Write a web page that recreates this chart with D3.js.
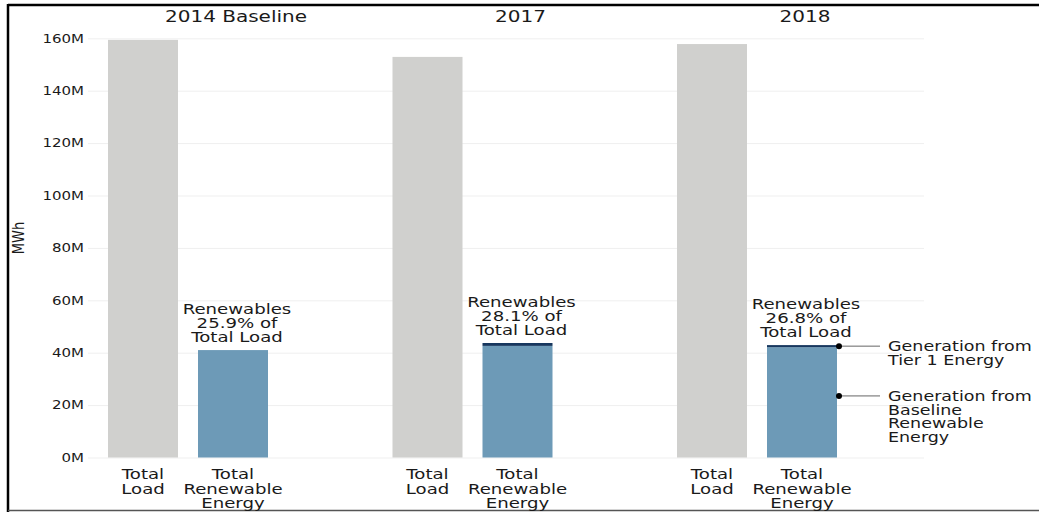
<!DOCTYPE html>
<html>
<head>
<meta charset="utf-8">
<script src="https://cdn.jsdelivr.net/npm/d3@7"></script>
<style>
  body { margin: 0; background: #fff; }
  svg { display: block; }
  text { font-family: "DejaVu Sans", sans-serif; fill: #1a1a1a; }
</style>
</head>
<body>
<svg id="chart" width="1039" height="512"></svg>
<script>
"use strict";

//
// Data
//

var years = ["2014 Baseline", "2017", "2018"];
var categories = ["Total Load", "Total Renewable Energy"];
var categoryLines = [["Total", "Load"], ["Total", "Renewable", "Energy"]];

var totalLoad = [159.4e6, 152.9e6, 157.8e6];
var baselineRenewable = [41.0e6, 42.6e6, 42.1e6];
var tier1Renewable = [0, 1.1e6, 0.8e6];
var shareLabels = ["25.9%", "28.1%", "26.8%"];

var yTicks = [0, 20e6, 40e6, 60e6, 80e6, 100e6, 120e6, 140e6, 160e6];

var notes = [
    { key: "tier1", lines: ["Generation from", "Tier 1 Energy"] },
    { key: "baseline", lines: ["Generation from", "Baseline", "Renewable", "Energy"] }
];


//
// Setup
//

var SX = 1.25;   // the reference type is set wide, so stretch it horizontally
var svg = d3.select("#chart");

var plotLeft = 88, plotRight = 924, plotTop = 38.3, plotBottom = 457.5;

var outer = d3.scaleBand().domain(years).range([plotLeft, plotLeft + 3 * 284.5]);
var inner = d3.scaleBand().domain(categories).range([20, 180]).paddingInner(20 / 90);
var y = d3.scaleLinear().domain([0, 160e6]).range([plotBottom, plotTop]);

var rows = years.map(function (yr, i) {
    return { year: yr, total: totalLoad[i], baseline: baselineRenewable[i], tier1: tier1Renewable[i], share: shareLabels[i] };
});

// one text element per block, one tspan per line
function wideText (parent, lines, x, yy, size, lineHeight, anchor) {
    var t = parent.append("text")
        .attr("transform", "translate(" + x + "," + yy + ") scale(" + SX + ",1)")
        .attr("text-anchor", anchor || "middle")
        .style("font-size", size + "px");

    [].concat(lines).forEach(function (s, i) {
        t.append("tspan")
            .attr("x", 0)
            .attr("dy", i === 0 ? "0.35em" : lineHeight)
            .text(s);
    });
    return t;
}


//
// Frame
//

svg.append("line").attr("x1", 8).attr("x2", 1039).attr("y1", 5).attr("y2", 5)
    .attr("stroke", "#000").attr("stroke-width", 2.5);
svg.append("line").attr("x1", 8).attr("x2", 8).attr("y1", 4).attr("y2", 512)
    .attr("stroke", "#000").attr("stroke-width", 2.5);
svg.append("line").attr("x1", 8).attr("x2", 1039).attr("y1", 510.5).attr("y2", 510.5)
    .attr("stroke", "#555").attr("stroke-width", 1.5);


//
// Axis and gridlines
//

var yAxis = svg.append("g")
    .attr("transform", "translate(" + plotLeft + ",0)")
    .call(d3.axisLeft(y)
        .tickValues(yTicks)
        .tickSize(-(plotRight - plotLeft))
        .tickPadding(4)
        .tickFormat(function (d) { return (d / 1e6) + "M"; }));

yAxis.select(".domain").remove();
yAxis.selectAll(".tick line").attr("stroke", "#efefef");
yAxis.selectAll(".tick text")
    .attr("x", 0)
    .attr("transform", "translate(-4,0) scale(" + SX + ",1)")
    .style("font-size", "12px")
    .style("font-family", "DejaVu Sans, sans-serif")
    .attr("fill", "#1a1a1a");

svg.append("text")
    .attr("transform", "translate(18,238) scale(" + SX + ",1) rotate(-90)")
    .attr("text-anchor", "middle")
    .attr("dy", "0.35em")
    .style("font-size", "13px")
    .text("MWh");


//
// Panels
//

var stack = d3.stack().keys(["baseline", "tier1"]);
var stacked = stack(rows);
var stackColor = { baseline: "#6d9ab7", tier1: "#17375e" };

var panels = svg.selectAll(".panel")
    .data(rows)
    .enter().append("g")
    .attr("class", "panel")
    .attr("transform", function (d) { return "translate(" + outer(d.year) + ",0)"; });

// total load bars
panels.append("rect")
    .attr("x", inner(categories[0]))
    .attr("width", inner.bandwidth())
    .attr("y", function (d) { return y(d.total); })
    .attr("height", function (d) { return y(0) - y(d.total); })
    .attr("fill", "#d0d0ce");

// renewable stacked bars
stacked.forEach(function (layer) {
    panels.append("rect")
        .attr("x", inner(categories[1]))
        .attr("width", inner.bandwidth())
        .attr("y", function (d, i) { return y(layer[i][1]); })
        .attr("height", function (d, i) { return y(layer[i][0]) - y(layer[i][1]); })
        .attr("fill", stackColor[layer.key]);
});

panels.each(function (d) {
    var g = d3.select(this);
    var cx = inner(categories[1]) + inner.bandwidth() / 2;

    // panel title
    wideText(g, d.year, cx + 3, 16, 16);

    // share label above renewable bar
    var top = y(d.baseline + d.tier1);
    wideText(g, ["Renewables", d.share + " of", "Total Load"], cx + 4, top - 41, 14.5, 14);

    // category labels
    categories.forEach(function (c, ci) {
        var lx = inner(c) + inner.bandwidth() / 2;
        wideText(g, categoryLines[ci], lx, 474, 14.5, 14.5);
    });
});


//
// Notes on the last renewable bar
//

var last = rows[rows.length - 1];
var noteAnchor = {
    tier1: last.baseline + last.tier1 / 2,
    baseline: 23.5e6
};
var barRight = outer(last.year) + inner(categories[1]) + inner.bandwidth();

notes.forEach(function (n) {
    var ny = y(noteAnchor[n.key]);
    svg.append("line")
        .attr("x1", barRight + 2).attr("x2", barRight + 43)
        .attr("y1", ny).attr("y2", ny)
        .attr("stroke", "#666").attr("stroke-width", 1);
    svg.append("circle")
        .attr("cx", barRight + 2).attr("cy", ny).attr("r", 3)
        .attr("fill", "#000");
    wideText(svg, n.lines, barRight + 51, ny, 14, 13.8, "start");
});
</script>
</body>
</html>
